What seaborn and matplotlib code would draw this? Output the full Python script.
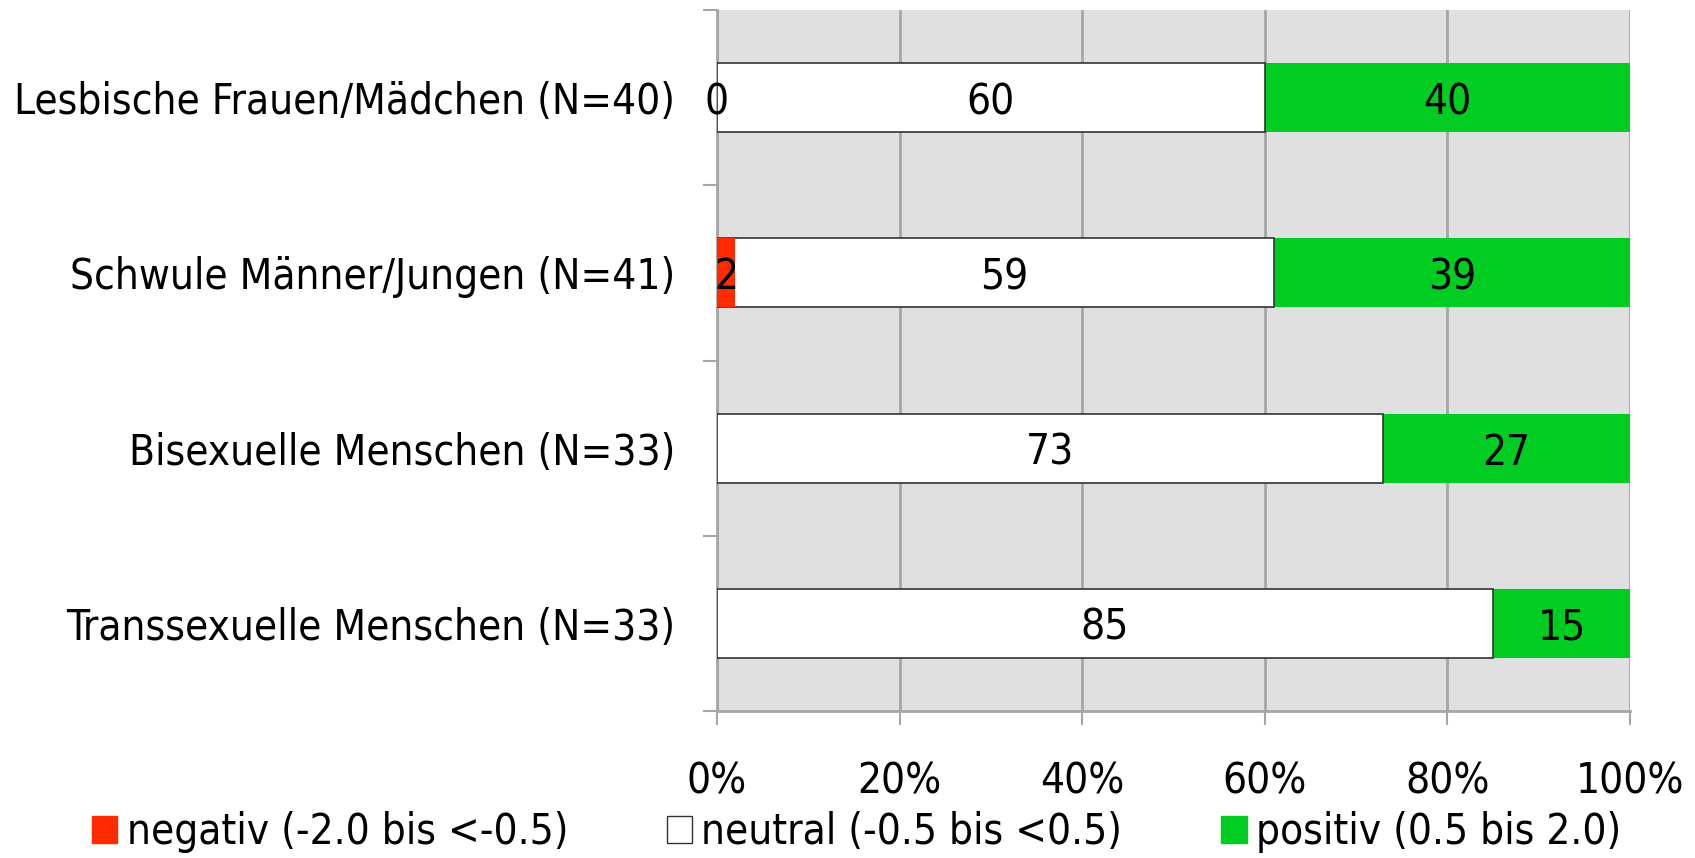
import matplotlib
matplotlib.use("Agg")
import matplotlib.pyplot as plt
import seaborn as sns
import pandas as pd
import numpy as np
from matplotlib.patches import Patch
from matplotlib.ticker import FixedLocator

categories = ["Lesbische Frauen/Mädchen (N=40)", "Schwule Männer/Jungen (N=41)",
              "Bisexuelle Menschen (N=33)", "Transsexuelle Menschen (N=33)"]
negativ = [0, 2, None, None]
neutral = [60, 59, 73, 85]
positiv = [40, 39, 27, 15]
x_ticks = [0, 20, 40, 60, 80, 100]
x_tick_labels = ["0%", "20%", "40%", "60%", "80%", "100%"]
legend_labels = ["negativ (-2.0 bis <-0.5)", "neutral (-0.5 bis <0.5)", "positiv (0.5 bis 2.0)"]

RED = "#FF2A00"
GREEN = "#00CC22"
BG = "#E0E0E0"
GRID = "#A6A6A6"

sns.set_theme(style="white")
plt.rcParams["font.family"] = ["DejaVu Sans"]
plt.rcParams["font.stretch"] = "condensed"
plt.rcParams["text.color"] = "black"
plt.rcParams["xtick.color"] = "black"
plt.rcParams["ytick.color"] = "black"
FS = 30.3

df = pd.DataFrame({"cat": categories, "neg": negativ, "neu": neutral, "pos": positiv})
df["neg_v"] = df["neg"].fillna(0)
df["cum_neu"] = df["neg_v"] + df["neu"]
df["cum_pos"] = df["cum_neu"] + df["pos"]

fig = plt.figure(figsize=(16.95, 8.58), dpi=100)
ax = fig.add_axes([717 / 1695, 1 - 711 / 858, (1630 - 717) / 1695, (711 - 10) / 858])
ax.set_facecolor(BG)

w = 0.395
sns.barplot(data=df, x="cum_pos", y="cat", orient="h", color=GREEN, width=w,
            edgecolor=GREEN, linewidth=0, ax=ax, saturation=1, zorder=3)
sns.barplot(data=df, x="cum_neu", y="cat", orient="h", color="white", width=w,
            edgecolor="#333333", linewidth=1.2, ax=ax, saturation=1, zorder=4)
sns.barplot(data=df, x="neg_v", y="cat", orient="h", color=RED, width=w,
            edgecolor="#333333", linewidth=0, ax=ax, saturation=1, zorder=5)

# value labels
dy = 0.025
for i, row in df.iterrows():
    if not pd.isna(row["neg"]):
        ax.text(row["neg"] / 2, i + dy, f"{int(row['neg'])}", ha="center", va="center", fontsize=FS, zorder=6)
    ax.text(row["neg_v"] + row["neu"] / 2, i + dy, f"{row['neu']}", ha="center", va="center", fontsize=FS, zorder=6)
    ax.text(row["cum_neu"] + row["pos"] / 2, i + dy, f"{row['pos']}", ha="center", va="center", fontsize=FS, zorder=6)

ax.set_xlim(0, 100)
ax.set_ylim(3.5, -0.5)
ax.set_xlabel("")
ax.set_ylabel("")

ax.set_xticks(x_ticks)
ax.set_xticklabels(x_tick_labels, fontsize=FS)
ax.tick_params(axis="x", length=10, width=1.5, color=GRID, labelcolor="black", pad=26, bottom=True)
ax.xaxis.grid(True, color=GRID, linewidth=2, zorder=1)
ax.set_axisbelow(True)

ax.set_yticks(range(len(categories)))
ax.set_yticklabels(categories, fontsize=FS)
ax.tick_params(axis="y", which="major", length=0, pad=30, labelcolor="black")
ax.yaxis.set_minor_locator(FixedLocator([-0.5, 0.5, 1.5, 2.5, 3.5]))
ax.tick_params(axis="y", which="minor", length=10, width=1.5, color=GRID, left=True)

for s in ["top", "right"]:
    ax.spines[s].set_visible(False)
for s in ["left", "bottom"]:
    ax.spines[s].set_color(GRID)
    ax.spines[s].set_linewidth(2)

handles = [Patch(facecolor=RED, edgecolor=RED),
           Patch(facecolor="white", edgecolor="#333333", linewidth=1),
           Patch(facecolor=GREEN, edgecolor=GREEN)]
fig.legend(handles, legend_labels, loc="center left", bbox_to_anchor=(92 / 1695, 1 - 832 / 858),
           ncol=3, frameon=False, fontsize=FS, handlelength=0.6, handleheight=0.6,
           handletextpad=0.22, columnspacing=2.35, borderaxespad=0, borderpad=0)

fig.savefig("out.png", dpi=100)
